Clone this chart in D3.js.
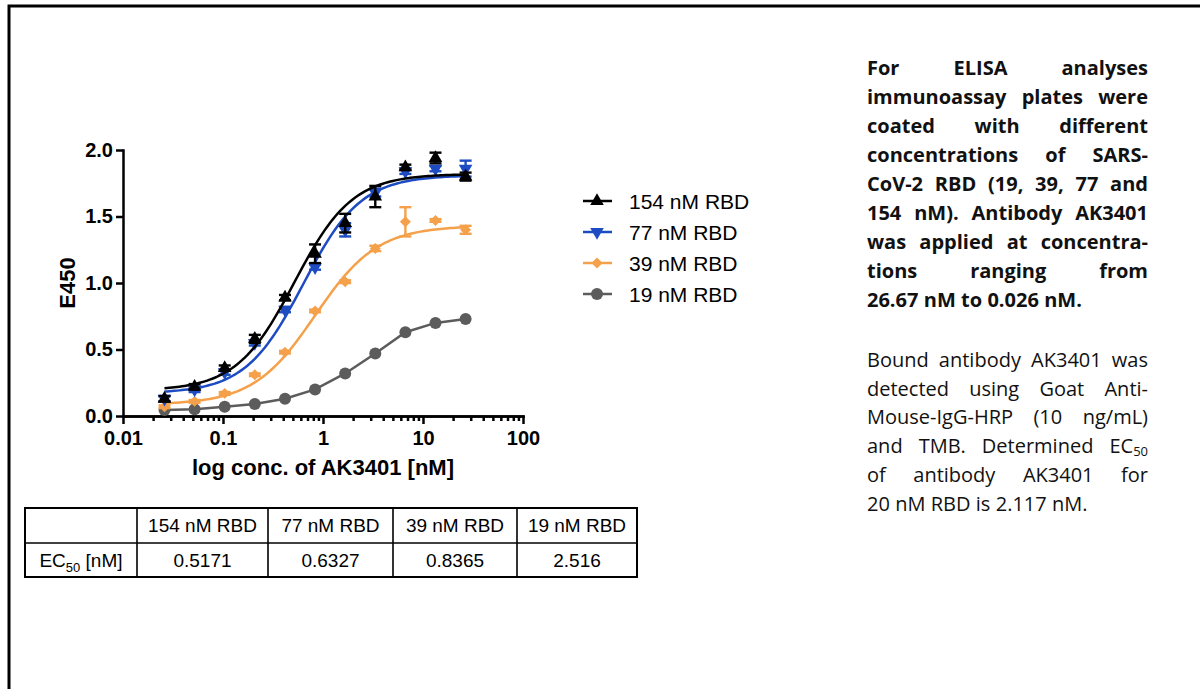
<!DOCTYPE html>
<html>
<head>
<meta charset="utf-8">
<script src="https://cdn.jsdelivr.net/npm/d3@7"></script>
<style>
body { margin: 0; background: #fff; }
#wrap { position: relative; width: 1200px; height: 689px; overflow: hidden; }
</style>
</head>
<body>
<div id="wrap"></div>
<script>
// dilution series of AK3401 [nM]
var conc = [0.026, 0.052, 0.104, 0.208, 0.417, 0.833, 1.667, 3.333, 6.667, 13.33, 26.67];

// E450 means and SD
var e154 = [0.13, 0.22, 0.36, 0.58, 0.89, 1.22, 1.45, 1.65, 1.87, 1.94, 1.80];
var sd154 = [0.02, 0.02, 0.02, 0.03, 0.02, 0.07, 0.07, 0.08, 0.02, 0.04, 0.03];
var e77 = [0.13, 0.20, 0.33, 0.55, 0.80, 1.12, 1.40, 1.68, 1.84, 1.86, 1.86];
var sd77 = [0.02, 0.02, 0.02, 0.02, 0.02, 0.02, 0.05, 0.03, 0.02, 0.02, 0.06];
var e39 = [0.07, 0.11, 0.17, 0.31, 0.48, 0.79, 1.01, 1.26, 1.46, 1.47, 1.40];
var sd39 = [0.01, 0.01, 0.01, 0.01, 0.01, 0.01, 0.01, 0.02, 0.11, 0.01, 0.03];
var e19 = [0.045, 0.05, 0.07, 0.09, 0.13, 0.20, 0.32, 0.47, 0.63, 0.70, 0.73];

// table + 4PL fit parameters (19 nM is drawn point to point)
var seriesNames = ["154 nM RBD", "77 nM RBD", "39 nM RBD", "19 nM RBD"];
var ec50 = [0.5171, 0.6327, 0.8365, 2.516];
var ec50Labels = ["0.5171", "0.6327", "0.8365", "2.516"];
var fitBottom = [0.19, 0.17, 0.085];
var fitTop = [1.82, 1.81, 1.43];
var fitHill = [1.5, 1.5, 1.4];

var xTicks = [0.01, 0.1, 1, 10, 100];
var xTickLabels = ["0.01", "0.1", "1", "10", "100"];
var yTicks = [0, 0.5, 1, 1.5, 2];
var yTickLabels = ["0.0", "0.5", "1.0", "1.5", "2.0"];

var para1 = [
  "For ELISA analyses",
  "immunoassay plates were",
  "coated with different",
  "concentrations of SARS-",
  "CoV-2 RBD (19, 39, 77 and",
  "154 nM). Antibody AK3401",
  "was applied at concentra-",
  "tions ranging from",
  "26.67 nM to 0.026 nM."
];
var para2 = [
  "Bound antibody AK3401 was",
  "detected using Goat Anti-",
  "Mouse-IgG-HRP (10 ng/mL)",
  "and TMB. Determined EC50",
  "of antibody AK3401 for",
  "20 nM RBD is 2.117 nM."
];

var colors = ["#000000", "#1d4cc2", "#f5a04a", "#5c5c5c"];
var arial = "'Liberation Sans', Arial, sans-serif";

var svg = d3.select("#wrap").append("svg")
  .attr("width", 1200)
  .attr("height", 689);

// outer frame (only top and left edge fall inside the picture)
svg.append("path")
  .attr("d", "M9,700V6H1210")
  .attr("fill", "none")
  .attr("stroke", "#000")
  .attr("stroke-width", 3);

var x = d3.scaleLog().domain([0.01, 100]).range([123, 523]);
var y = d3.scaleLinear().domain([0, 2]).range([416, 150]);

var minorTicks = [];
xTicks.slice(0, -1).forEach(function(d) {
  for (var k = 2; k < 10; k++) minorTicks.push(d * k);
});

var gxMinor = svg.append("g")
  .attr("transform", "translate(0,416)")
  .call(d3.axisBottom(x).tickValues(minorTicks).tickSize(5).tickSizeOuter(0).tickFormat(""));
var gx = svg.append("g")
  .attr("transform", "translate(0,416)")
  .call(d3.axisBottom(x).tickValues(xTicks).tickSize(8).tickSizeOuter(0).tickPadding(7)
    .tickFormat(function(d, i) { return xTickLabels[i]; }));
var gy = svg.append("g")
  .attr("transform", "translate(123,0)")
  .call(d3.axisLeft(y).tickValues(yTicks).tickSize(7).tickSizeOuter(0).tickPadding(3)
    .tickFormat(function(d, i) { return yTickLabels[i]; }));

[gxMinor, gx, gy].forEach(function(g) {
  g.selectAll("path, line").attr("stroke", "#000").attr("stroke-width", 2.5);
  g.select(".domain").attr("stroke-linecap", "square");
  g.selectAll("text")
    .attr("fill", "#000")
    .style("font-family", arial)
    .style("font-weight", "bold")
    .style("font-size", "20px");
});

svg.append("text")
  .attr("x", 323)
  .attr("y", 475)
  .attr("text-anchor", "middle")
  .style("font-family", arial)
  .style("font-weight", "bold")
  .style("font-size", "22px")
  .text("log conc. of AK3401 [nM]");

svg.append("text")
  .attr("transform", "translate(75,283) rotate(-90)")
  .attr("text-anchor", "middle")
  .style("font-family", arial)
  .style("font-weight", "bold")
  .style("font-size", "22px")
  .text("E450");

var means = [e154, e77, e39, e19];
var sds = [sd154, sd77, sd39, null];

function marker(sel, i) {
  if (i === 3) {
    sel.append("circle").attr("r", 6).attr("fill", colors[i]);
  } else if (i === 2) {
    sel.append("path").attr("d", d3.symbol(d3.symbolSquare, 60)()).attr("transform", "rotate(45)").attr("fill", colors[i]);
  } else {
    sel.append("path").attr("d", d3.symbol(d3.symbolTriangle, 80)())
      .attr("transform", i === 1 ? "rotate(180)" : null).attr("fill", colors[i]);
  }
}

// fitted curves sampled on a log grid between first and last concentration
var grid = d3.range(0, 121).map(function(k) {
  return Math.exp(Math.log(conc[0]) + k / 120 * (Math.log(conc[conc.length - 1]) - Math.log(conc[0])));
});
function fourPL(i) {
  return function(c) {
    return fitBottom[i] + (fitTop[i] - fitBottom[i]) / (1 + Math.pow(ec50[i] / c, fitHill[i]));
  };
}
var line = d3.line().x(function(d) { return x(d[0]); }).y(function(d) { return y(d[1]); });

[3, 2, 1, 0].forEach(function(i) {
  var g = svg.append("g");
  var pts;
  if (i === 3) {
    pts = conc.map(function(c, k) { return [c, means[i][k]]; });
  } else {
    var f = fourPL(i);
    pts = grid.map(function(c) { return [c, f(c)]; });
  }
  g.append("path")
    .attr("d", line(pts))
    .attr("fill", "none")
    .attr("stroke", colors[i])
    .attr("stroke-width", 2.5);

  if (sds[i]) {
    var eb = g.selectAll(".eb").data(conc).enter().append("g");
    eb.append("line")
      .attr("x1", function(c) { return x(c); })
      .attr("x2", function(c) { return x(c); })
      .attr("y1", function(c, k) { return y(means[i][k] - sds[i][k]); })
      .attr("y2", function(c, k) { return y(means[i][k] + sds[i][k]); });
    [-1, 1].forEach(function(s) {
      eb.append("line")
        .attr("x1", function(c) { return x(c) - 6; })
        .attr("x2", function(c) { return x(c) + 6; })
        .attr("y1", function(c, k) { return y(means[i][k] + s * sds[i][k]); })
        .attr("y2", function(c, k) { return y(means[i][k] + s * sds[i][k]); });
    });
    eb.selectAll("line").attr("stroke", colors[i]).attr("stroke-width", 2.4);
  }

  g.selectAll(".pt").data(conc).enter().append("g")
    .attr("transform", function(c, k) { return "translate(" + x(c) + "," + y(means[i][k]) + ")"; })
    .each(function() { marker(d3.select(this), i); });
});

// legend
var legY = d3.scalePoint().domain(seriesNames).range([201, 294]);
var leg = svg.selectAll(".leg").data(seriesNames).enter().append("g")
  .attr("transform", function(d) { return "translate(597," + legY(d) + ")"; });
leg.append("line")
  .attr("x1", -14).attr("x2", 15)
  .attr("stroke", function(d, i) { return colors[i]; })
  .attr("stroke-width", 2.5);
leg.each(function(d, i) { marker(d3.select(this), i); });
leg.append("text")
  .attr("x", 32)
  .attr("dy", "0.36em")
  .style("font-family", arial)
  .style("font-size", "21px")
  .text(function(d) { return d; });

// EC50 table
var colEdges = [25, 137, 268, 393, 517, 637];
var rowEdges = [508, 543, 577];
var tbl = svg.append("g");
tbl.append("rect")
  .attr("x", colEdges[0]).attr("y", rowEdges[0])
  .attr("width", colEdges[5] - colEdges[0]).attr("height", rowEdges[2] - rowEdges[0])
  .attr("fill", "none").attr("stroke", "#000").attr("stroke-width", 2);
tbl.selectAll(".vl").data(colEdges.slice(1, -1)).enter().append("line")
  .attr("x1", function(d) { return d; }).attr("x2", function(d) { return d; })
  .attr("y1", rowEdges[0]).attr("y2", rowEdges[2])
  .attr("stroke", "#000").attr("stroke-width", 1.6);
tbl.append("line")
  .attr("x1", colEdges[0]).attr("x2", colEdges[5])
  .attr("y1", rowEdges[1]).attr("y2", rowEdges[1])
  .attr("stroke", "#000").attr("stroke-width", 1.6);
tbl.selectAll(".hd").data(seriesNames).enter().append("text")
  .attr("x", function(d, i) { return (colEdges[i + 1] + colEdges[i + 2]) / 2; })
  .attr("y", (rowEdges[0] + rowEdges[1]) / 2)
  .attr("dy", "0.36em")
  .attr("text-anchor", "middle")
  .style("font-family", arial).style("font-size", "19px")
  .text(function(d) { return d; });
tbl.selectAll(".vv").data(ec50Labels).enter().append("text")
  .attr("x", function(d, i) { return (colEdges[i + 1] + colEdges[i + 2]) / 2; })
  .attr("y", (rowEdges[1] + rowEdges[2]) / 2)
  .attr("dy", "0.36em")
  .attr("text-anchor", "middle")
  .style("font-family", arial).style("font-size", "19px")
  .text(function(d) { return d; });
var ecLab = tbl.append("text")
  .attr("x", (colEdges[0] + colEdges[1]) / 2)
  .attr("y", (rowEdges[1] + rowEdges[2]) / 2)
  .attr("dy", "0.36em")
  .attr("text-anchor", "middle")
  .style("font-family", arial).style("font-size", "19px");
ecLab.append("tspan").text("EC");
ecLab.append("tspan").attr("dy", 5).style("font-size", "13px").text("50");
ecLab.append("tspan").attr("dy", -5).text(" [nM]");

// justified side text, one line at a time
function justify(lines, x0, width, y0, lh, weight) {
  var g = svg.append("g")
    .style("font-family", "'Open Sans', sans-serif")
    .style("font-size", "20px")
    .style("font-weight", weight)
    .attr("fill", "#111");
  lines.forEach(function(ln, i) {
    var words = ln.split(" ");
    var yy = y0 + i * lh;
    var nodes = words.map(function(w) {
      var t = g.append("text").attr("y", yy);
      if (w === "EC50") {
        t.append("tspan").text("EC");
        t.append("tspan").attr("dy", 3).style("font-size", "13px").text("50");
      } else {
        t.text(w);
      }
      return t;
    });
    var widths = nodes.map(function(n) { return n.node().getComputedTextLength(); });
    var last = i === lines.length - 1;
    var gap = last ? 5.3 : (width - d3.sum(widths)) / (words.length - 1);
    var xx = x0;
    nodes.forEach(function(n, k) { n.attr("x", xx); xx += widths[k] + gap; });
  });
}
justify(para1, 867, 281, 75, 29, "bold");
justify(para2, 867, 281, 367, 28.7, "normal");
</script>
</body>
</html>
